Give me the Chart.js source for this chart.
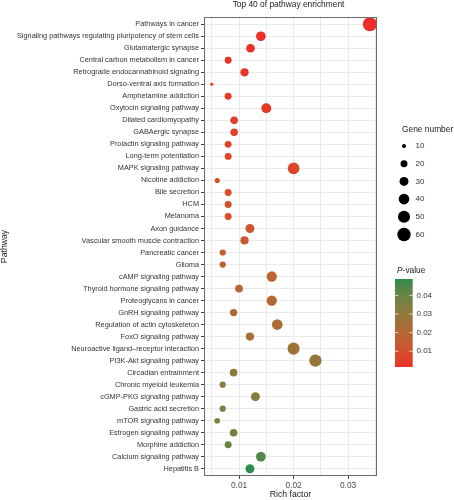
<!DOCTYPE html>
<html>
<head>
<meta charset="utf-8">
<script src="https://cdn.jsdelivr.net/npm/chart.js@4/dist/chart.umd.min.js"></script>
<style>
html,body{margin:0;padding:0;background:#fff;}
#c{display:block;}
</style>
</head>
<body>
<canvas id="c" width="454" height="500"></canvas>
<script>
const pathways = [
  "Pathways in cancer",
  "Signaling pathways regulating pluripotency of stem cells",
  "Glutamatergic synapse",
  "Central carbon metabolism in cancer",
  "Retrograde endocannabinoid signaling",
  "Dorso-ventral axis formation",
  "Amphetamine addiction",
  "Oxytocin signaling pathway",
  "Dilated cardiomyopathy",
  "GABAergic synapse",
  "Prolactin signaling pathway",
  "Long-term potentiation",
  "MAPK signaling pathway",
  "Nicotine addiction",
  "Bile secretion",
  "HCM",
  "Melanoma",
  "Axon guidance",
  "Vascular smooth muscle contraction",
  "Pancreatic cancer",
  "Glioma",
  "cAMP signaling pathway",
  "Thyroid hormone signaling pathway",
  "Proteoglycans in cancer",
  "GnRH signaling pathway",
  "Regulation of actin cytoskeleton",
  "FoxO signaling pathway",
  "Neuroactive ligand\u2013receptor interaction",
  "PI3K-Akt signaling pathway",
  "Circadian entrainment",
  "Chronic myeloid leukemia",
  "cGMP-PKG signaling pathway",
  "Gastric acid secretion",
  "mTOR signaling pathway",
  "Estrogen signaling pathway",
  "Morphine addiction",
  "Calcium signaling pathway",
  "Hepatitis B"
];
const richFactor = [
  0.0340, 0.0140, 0.0121, 0.0080, 0.0110, 0.0050, 0.0080, 0.0150, 0.0091, 0.0091,
  0.0080, 0.0080, 0.0200, 0.0060, 0.0080, 0.0080, 0.0080, 0.0120, 0.0110, 0.0070,
  0.0070, 0.0160, 0.0100, 0.0160, 0.0090, 0.0170, 0.0120, 0.0200, 0.0240, 0.0090,
  0.0070, 0.0130, 0.0070, 0.0060, 0.0090, 0.0080, 0.0140, 0.0120
];
const geneNumber = [
  66, 34, 28, 20, 26, 8, 20, 36, 23, 23,
  20, 20, 47, 13, 20, 20, 20, 30, 26, 17,
  17, 38, 24, 38, 22, 40, 26, 50, 52, 23,
  17, 30, 17, 15, 23, 20, 34, 30
];
const pValue = [
  0.0015, 0.0018, 0.0022, 0.0026, 0.0030, 0.0035, 0.0038, 0.0042, 0.0050, 0.0053,
  0.0060, 0.0063, 0.0070, 0.0085, 0.0098, 0.0105, 0.0110, 0.0120, 0.0135, 0.0150,
  0.0155, 0.0175, 0.0190, 0.0195, 0.0210, 0.0220, 0.0240, 0.0265, 0.0290, 0.0300,
  0.0320, 0.0335, 0.0350, 0.0365, 0.0380, 0.0400, 0.0440, 0.0488
];
const xTickValues = [0.005, 0.01, 0.015, 0.02, 0.025, 0.03, 0.035];
const sizeBreaks = [10, 20, 30, 40, 50, 60];
const pBreaks = [0.01, 0.02, 0.03, 0.04];

const FONT = "'Liberation Sans', Arial, Helvetica, sans-serif";

// --- colour scale (Lab interpolation like ggplot) ---
const LOW = [236, 44, 38], HIGH = [44, 140, 78];
function srgb2lin(c){c/=255;return c<=0.04045?c/12.92:Math.pow((c+0.055)/1.055,2.4);}
function lin2srgb(c){c=c<=0.0031308?12.92*c:1.055*Math.pow(c,1/2.4)-0.055;return Math.max(0,Math.min(255,Math.round(c*255)));}
function rgb2lab(rgb){
  const r=srgb2lin(rgb[0]),g=srgb2lin(rgb[1]),b=srgb2lin(rgb[2]);
  let X=(0.4124*r+0.3576*g+0.1805*b)/0.95047,Y=(0.2126*r+0.7152*g+0.0722*b),Z=(0.0193*r+0.1192*g+0.9505*b)/1.08883;
  const f=t=>t>0.008856?Math.cbrt(t):7.787*t+16/116;
  X=f(X);Y=f(Y);Z=f(Z);
  return [116*Y-16,500*(X-Y),200*(Y-Z)];
}
function lab2rgb(lab){
  let Y=(lab[0]+16)/116,X=lab[1]/500+Y,Z=Y-lab[2]/200;
  const fi=t=>{const t3=t*t*t;return t3>0.008856?t3:(t-16/116)/7.787;};
  X=fi(X)*0.95047;Y=fi(Y);Z=fi(Z)*1.08883;
  const r=3.2406*X-1.5372*Y-0.4986*Z,g=-0.9689*X+1.8758*Y+0.0415*Z,b=0.0557*X-0.2040*Y+1.0570*Z;
  return [lin2srgb(r),lin2srgb(g),lin2srgb(b)];
}
const LOWLAB=rgb2lab(LOW),HIGHLAB=rgb2lab(HIGH);
const pMin=Math.min(...pValue),pMax=Math.max(...pValue);
function colorFor(p){
  const t=Math.max(0,Math.min(1,(p-pMin)/(pMax-pMin)));
  const lab=[0,1,2].map(i=>LOWLAB[i]+(HIGHLAB[i]-LOWLAB[i])*t);
  const c=lab2rgb(lab);
  return `rgb(${c[0]},${c[1]},${c[2]})`;
}
function radiusFor(n){return Math.sqrt(Math.max(0.81*n-4.1,1.5));}

const points = pathways.map((name,i)=>({x:richFactor[i], y:i+1, r:radiusFor(geneNumber[i])}));
const isMajor = v => Math.abs(v*100-Math.round(v*100))<1e-6;

const decor = {
  id:'decor',
  afterDraw(chart){
    const ctx=chart.ctx, a=chart.chartArea;
    ctx.save();
    // panel border
    ctx.strokeStyle='#6a6a6a'; ctx.lineWidth=1;
    ctx.strokeRect(Math.round(a.left)+0.5, Math.round(a.top)+0.5, Math.round(a.right-a.left)-1, Math.round(a.bottom-a.top)-1);
    // title
    const cx=(a.left+a.right)/2;
    ctx.fillStyle='#222'; ctx.textAlign='center'; ctx.textBaseline='middle';
    ctx.font=`8.4px ${FONT}`;
    ctx.fillText('Top 40 of pathway enrichment', cx-2, 5);
    // axis titles
    ctx.font=`8.7px ${FONT}`;
    ctx.fillText('Rich factor', cx, 495);
    ctx.save(); ctx.translate(5,(a.top+a.bottom)/2); ctx.rotate(-Math.PI/2);
    ctx.fillText('Pathway',0,0); ctx.restore();
    // size legend
    ctx.textAlign='left';
    ctx.font=`8.4px ${FONT}`;
    ctx.fillText('Gene number', 402, 129.5);
    ctx.fillStyle='#000';
    sizeBreaks.forEach((n,i)=>{
      const y=146+i*17.7;
      ctx.beginPath(); ctx.arc(404,y,radiusFor(n),0,Math.PI*2); ctx.fill();
    });
    ctx.fillStyle='#333'; ctx.font=`8px ${FONT}`;
    sizeBreaks.forEach((n,i)=>{ctx.fillText(String(n),415.5,146+i*17.7);});
    // p-value legend
    ctx.fillStyle='#222';
    ctx.font=`italic 8.4px ${FONT}`;
    ctx.fillText('P',397,271);
    const pw=ctx.measureText('P').width;
    ctx.font=`8.4px ${FONT}`;
    ctx.fillText('-value',397+pw,271);
    const bx=395,bw=17.7,bTop=279,bBot=367;
    for(let y=bTop;y<bBot;y++){
      const p=pMax-(y+0.5-bTop)/(bBot-bTop)*(pMax-pMin);
      ctx.fillStyle=colorFor(p); ctx.fillRect(bx,y,bw,1);
    }
    ctx.strokeStyle='rgba(255,255,255,0.85)'; ctx.lineWidth=0.8;
    ctx.fillStyle='#333'; ctx.font=`8px ${FONT}`;
    pBreaks.forEach(p=>{
      const y=bBot-(p-pMin)/(pMax-pMin)*(bBot-bTop);
      ctx.beginPath(); ctx.moveTo(bx,y); ctx.lineTo(bx+3.5,y); ctx.moveTo(bx+bw-3.5,y); ctx.lineTo(bx+bw,y); ctx.stroke();
      ctx.fillText(p.toFixed(2),416.5,y);
    });
    ctx.restore();
  }
};

new Chart(document.getElementById('c'),{
  type:'bubble',
  data:{datasets:[{
    data:points,
    backgroundColor:ctx=>colorFor(pValue[ctx.dataIndex]),
    borderWidth:0,
    hoverRadius:0
  }]},
  options:{
    responsive:false,
    animation:false,
    events:[],
    layout:{padding:{top:17,right:77,bottom:0,left:0}},
    plugins:{legend:{display:false},tooltip:{enabled:false},title:{display:false}},
    scales:{
      x:{
        type:'linear', min:0.00357, max:0.0353,
        afterBuildTicks:s=>{s.ticks=xTickValues.map(v=>({value:v}));},
        afterFit:s=>{s.height=24;},
        grid:{color:'#ebebeb',lineWidth:1,tickLength:3,
          tickColor:c=>(c.tick&&isMajor(c.tick.value))?'#444':'rgba(0,0,0,0)'},
        border:{display:false},
        ticks:{padding:2,color:'#4d4d4d',font:{family:FONT,size:8.4},
          maxRotation:0,autoSkip:false,
          callback:v=>isMajor(v)?v.toFixed(2):''}
      },
      y:{
        type:'linear', min:0.4, max:38.6, reverse:true,
        afterBuildTicks:s=>{s.ticks=pathways.map((p,i)=>({value:i+1}));},
        afterFit:s=>{s.width=204;},
        grid:{color:'#ebebeb',lineWidth:1,tickLength:3,tickColor:'#444'},
        border:{display:false},
        ticks:{padding:2,color:'#333',font:{family:FONT,size:7.35},autoSkip:false,
          callback:v=>pathways[Math.round(v)-1]||''}
      }
    }
  },
  plugins:[decor]
});
</script>
</body>
</html>
